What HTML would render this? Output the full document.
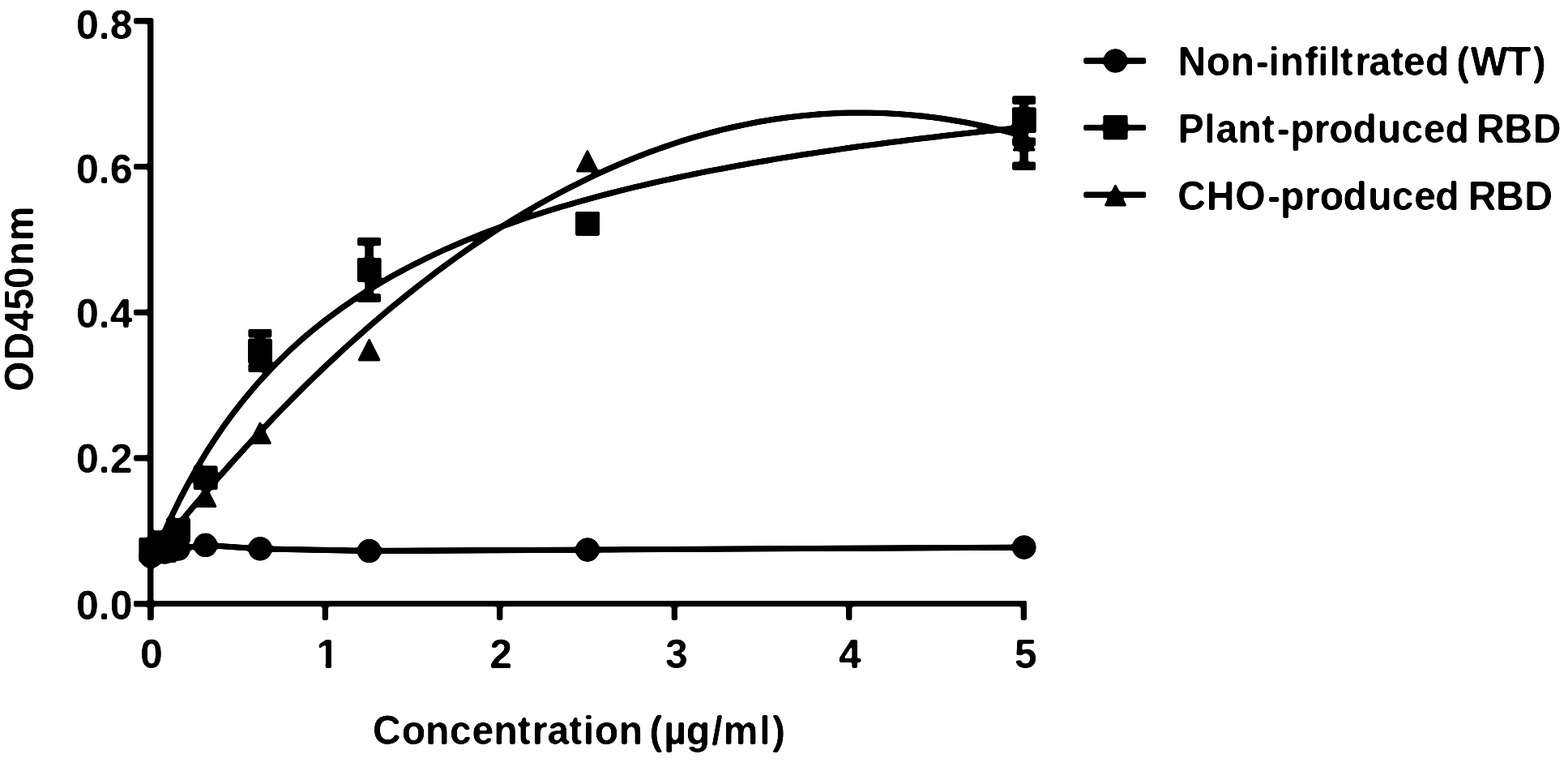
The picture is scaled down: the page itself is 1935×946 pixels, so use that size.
<!DOCTYPE html>
<html lang="en"><head><meta charset="utf-8"><title>ELISA binding curve</title>
<style>html,body{margin:0;padding:0;background:#fff;}body{width:1935px;height:946px;overflow:hidden;}svg{display:block;}text{font-family:"Liberation Sans",sans-serif;font-weight:bold;font-size:50px;fill:#000;}</style>
</head><body>
<svg width="1935" height="946" viewBox="0 0 1935 946">
<defs><filter id="soft" filterUnits="userSpaceOnUse" x="-40" y="-40" width="2015" height="1026" color-interpolation-filters="sRGB"><feGaussianBlur stdDeviation="1.15"/><feComponentTransfer><feFuncR type="linear" slope="4.5" intercept="-1.75"/><feFuncG type="linear" slope="4.5" intercept="-1.75"/><feFuncB type="linear" slope="4.5" intercept="-1.75"/></feComponentTransfer></filter></defs>
<g filter="url(#soft)">
<rect x="-40" y="-40" width="2015" height="1026" fill="#fff"/>
<g stroke="#000" stroke-width="7.3" fill="none" stroke-linecap="butt">
<line x1="185.8" y1="22.2" x2="185.8" y2="764.9"/>
<line x1="165.1" y1="744.7" x2="1267.0" y2="744.7"/>
<line x1="165.1" y1="744.7" x2="185.8" y2="744.7"/>
<line x1="165.1" y1="565.0" x2="185.8" y2="565.0"/>
<line x1="165.1" y1="385.3" x2="185.8" y2="385.3"/>
<line x1="165.1" y1="205.6" x2="185.8" y2="205.6"/>
<line x1="165.1" y1="25.9" x2="185.8" y2="25.9"/>
<line x1="185.8" y1="744.7" x2="185.8" y2="764.9"/>
<line x1="401.3" y1="744.7" x2="401.3" y2="764.9"/>
<line x1="616.8" y1="744.7" x2="616.8" y2="764.9"/>
<line x1="832.3" y1="744.7" x2="832.3" y2="764.9"/>
<line x1="1047.8" y1="744.7" x2="1047.8" y2="764.9"/>
<line x1="1263.3" y1="744.7" x2="1263.3" y2="764.9"/>
</g>
<text x="163.5" y="763.7" text-anchor="end">0.0</text>
<text x="163.5" y="583.3" text-anchor="end">0.2</text>
<text x="163.5" y="404.1" text-anchor="end">0.4</text>
<text x="163.5" y="225.5" text-anchor="end">0.6</text>
<text x="163.5" y="47.9" text-anchor="end">0.8</text>
<text x="186.9" y="824.0" text-anchor="middle">0</text>
<clipPath id="one"><rect x="390.25" y="780" width="30" height="38.90"/><rect x="401.55" y="818.80" width="7.6" height="6"/></clipPath>
<text x="390.25" y="824.0" clip-path="url(#one)">1</text>
<text x="618.2" y="824.0" text-anchor="middle">2</text>
<text x="834.9" y="824.0" text-anchor="middle">3</text>
<text x="1049.0" y="824.0" text-anchor="middle">4</text>
<text x="1265.6" y="824.0" text-anchor="middle">5</text>
<text transform="scale(0.965 0.984)" x="476.73 513.64 544.17 575.18 603.59 631.37 661.99 680.45 700.02 727.69 745.93 760.38 791.37 821.91 830.56 848.88 877.50 910.00 924.98 971.21 987.51" y="932.52">Concentration (µg/ml)</text>
<text transform="translate(40.7 0) rotate(-90) scale(0.955 1)" x="-505.44 -465.22 -428.18 -400.42 -372.77 -343.01 -311.02" y="0">OD450nm</text>
<line x1="1337.3" y1="75.0" x2="1414.3" y2="75.0" stroke="#000" stroke-width="7.4"/>
<circle cx="1376.5" cy="75.0" r="14.85"/>
<text transform="scale(0.965 0.984)" x="1506.15 1542.81 1573.54 1605.90 1622.30 1636.96 1668.61 1685.20 1700.02 1713.80 1732.78 1750.44 1778.57 1794.89 1822.76 1853.30 1862.37 1880.45 1927.51 1960.36" y="94.72">Non-infiltrated (WT)</text>
<line x1="1337.3" y1="157.4" x2="1414.3" y2="157.4" stroke="#000" stroke-width="7.4"/>
<rect x="1361.4" y="141.9" width="30.2" height="30.5"/>
<text transform="scale(0.965 0.984)" x="1506.29 1540.13 1554.84 1582.77 1613.38 1632.89 1649.91 1680.45 1699.86 1730.12 1761.46 1792.28 1820.59 1848.15 1878.69 1888.04 1923.53 1960.34" y="179.27">Plant-produced RBD</text>
<line x1="1337.3" y1="240.3" x2="1414.3" y2="240.3" stroke="#000" stroke-width="7.4"/>
<polygon points="1376.5,226.1 1362.1,254.6 1390.9,254.6"/>
<text transform="scale(0.965 0.984)" x="1505.85 1542.84 1579.59 1620.87 1637.27 1668.33 1687.79 1717.58 1749.44 1779.95 1808.46 1835.61 1866.15 1877.37 1912.86 1949.41" y="263.41">CHO-produced RBD</text>
<g stroke="#000" stroke-width="7.3" fill="none" stroke-linejoin="round" stroke-linecap="butt">
<path d="M185.8,696.7 L194.9,674.5 L203.9,653.7 L213.0,634.1 L222.0,615.8 L231.1,598.5 L240.1,582.2 L249.2,566.8 L258.2,552.2 L267.3,538.4 L276.3,525.3 L285.4,512.9 L294.5,501.0 L303.5,489.8 L312.6,479.0 L321.6,468.7 L330.7,458.9 L339.7,449.5 L348.8,440.5 L357.8,431.9 L366.9,423.6 L375.9,415.6 L385.0,408.0 L394.1,400.7 L403.1,393.6 L412.2,386.8 L421.2,380.2 L430.3,373.9 L439.3,367.8 L448.4,361.9 L457.4,356.2 L466.5,350.7 L475.5,345.4 L484.6,340.2 L493.7,335.2 L502.7,330.4 L511.8,325.7 L520.8,321.2 L529.9,316.7 L538.9,312.5 L548.0,308.3 L557.0,304.3 L566.1,300.3 L575.1,296.5 L584.2,292.8 L593.3,289.2 L602.3,285.7 L611.4,282.3 L620.4,278.9 L629.5,275.7 L638.5,272.5 L647.6,269.4 L656.6,266.4 L665.7,263.5 L674.7,260.6 L683.8,257.8 L692.9,255.0 L701.9,252.4 L711.0,249.8 L720.0,247.2 L729.1,244.7 L738.1,242.3 L747.2,239.9 L756.2,237.6 L765.3,235.3 L774.4,233.0 L783.4,230.8 L792.5,228.7 L801.5,226.6 L810.6,224.5 L819.6,222.5 L828.7,220.6 L837.7,218.6 L846.8,216.7 L855.8,214.9 L864.9,213.0 L874.0,211.2 L883.0,209.5 L892.1,207.8 L901.1,206.1 L910.2,204.4 L919.2,202.8 L928.3,201.2 L937.3,199.6 L946.4,198.1 L955.4,196.5 L964.5,195.0 L973.6,193.6 L982.6,192.1 L991.7,190.7 L1000.7,189.3 L1009.8,188.0 L1018.8,186.6 L1027.9,185.3 L1036.9,184.0 L1046.0,182.7 L1055.0,181.4 L1064.1,180.2 L1073.2,179.0 L1082.2,177.8 L1091.3,176.6 L1100.3,175.4 L1109.4,174.3 L1118.4,173.1 L1127.5,172.0 L1136.5,170.9 L1145.6,169.8 L1154.6,168.8 L1163.7,167.7 L1172.8,166.7 L1181.8,165.7 L1190.9,164.7 L1199.9,163.7 L1209.0,162.7 L1218.0,161.7 L1227.1,160.8 L1236.1,159.8 L1245.2,158.9 L1254.2,158.0 L1263.3,157.1"/>
<path d="M185.8,689.3 L194.9,678.0 L203.9,666.8 L213.0,655.7 L222.0,644.7 L231.1,633.9 L240.1,623.2 L249.2,612.6 L258.2,602.1 L267.3,591.7 L276.3,581.5 L285.4,571.3 L294.5,561.3 L303.5,551.4 L312.6,541.6 L321.6,532.0 L330.7,522.4 L339.7,513.0 L348.8,503.7 L357.8,494.5 L366.9,485.4 L375.9,476.4 L385.0,467.6 L394.1,458.9 L403.1,450.2 L412.2,441.8 L421.2,433.4 L430.3,425.1 L439.3,417.0 L448.4,409.0 L457.4,401.1 L466.5,393.3 L475.5,385.6 L484.6,378.0 L493.7,370.6 L502.7,363.3 L511.8,356.1 L520.8,349.0 L529.9,342.1 L538.9,335.2 L548.0,328.5 L557.0,321.9 L566.1,315.4 L575.1,309.0 L584.2,302.7 L593.3,296.6 L602.3,290.6 L611.4,284.7 L620.4,278.9 L629.5,273.2 L638.5,267.6 L647.6,262.2 L656.6,256.9 L665.7,251.7 L674.7,246.6 L683.8,241.6 L692.9,236.8 L701.9,232.0 L711.0,227.4 L720.0,222.9 L729.1,218.5 L738.1,214.3 L747.2,210.1 L756.2,206.1 L765.3,202.2 L774.4,198.4 L783.4,194.7 L792.5,191.2 L801.5,187.7 L810.6,184.4 L819.6,181.2 L828.7,178.1 L837.7,175.1 L846.8,172.3 L855.8,169.6 L864.9,166.9 L874.0,164.4 L883.0,162.1 L892.1,159.8 L901.1,157.6 L910.2,155.6 L919.2,153.7 L928.3,151.9 L937.3,150.2 L946.4,148.7 L955.4,147.2 L964.5,145.9 L973.6,144.7 L982.6,143.6 L991.7,142.6 L1000.7,141.8 L1009.8,141.0 L1018.8,140.4 L1027.9,139.9 L1036.9,139.5 L1046.0,139.2 L1055.0,139.1 L1064.1,139.1 L1073.2,139.1 L1082.2,139.3 L1091.3,139.7 L1100.3,140.1 L1109.4,140.6 L1118.4,141.3 L1127.5,142.1 L1136.5,143.0 L1145.6,144.0 L1154.6,145.2 L1163.7,146.4 L1172.8,147.8 L1181.8,149.3 L1190.9,150.9 L1199.9,152.6 L1209.0,154.5 L1218.0,156.4 L1227.1,158.5 L1236.1,160.7 L1245.2,163.0 L1254.2,165.5 L1263.3,168.0"/>
<path d="M186.3,685.9 L203.1,681.0 L220.0,677.0 L253.6,672.4 L321.0,676.8 L455.7,679.5 L725.0,678.1 L1263.8,675.1"/>
</g>
<g stroke="#000" stroke-width="10.5" fill="none">
<path d="M455.6,298.1 V367.5 M441.1,298.1 H470.1 M441.1,367.5 H470.1"/>
<path d="M1263.7,123.4 V174.7 M1249.2,123.4 H1278.2 M1249.2,174.7 H1278.2"/>
<path d="M1263.7,139.2 V204.8 M1249.2,139.2 H1278.2 M1249.2,204.8 H1278.2"/>
<path d="M320.9,411.1 V454.1 M306.4,411.1 H335.4 M306.4,454.1 H335.4"/>
</g>
<g fill="#000">
<circle cx="186.3" cy="685.9" r="14.85"/>
<circle cx="203.1" cy="681.0" r="14.85"/>
<circle cx="220.0" cy="677.0" r="14.85"/>
<circle cx="253.6" cy="672.4" r="14.85"/>
<circle cx="321.0" cy="676.8" r="14.85"/>
<circle cx="455.7" cy="679.5" r="14.85"/>
<circle cx="725.0" cy="678.1" r="14.85"/>
<circle cx="1263.8" cy="675.1" r="14.85"/>
<rect x="171.4" y="662.9" width="29.9" height="29.9"/>
<rect x="188.2" y="654.3" width="29.9" height="29.9"/>
<rect x="205.0" y="638.8" width="29.9" height="29.9"/>
<rect x="238.7" y="574.4" width="29.9" height="29.9"/>
<rect x="306.0" y="417.9" width="29.9" height="29.9"/>
<rect x="440.7" y="317.9" width="29.9" height="29.9"/>
<rect x="710.1" y="260.9" width="29.9" height="29.9"/>
<rect x="1248.8" y="132.3" width="29.9" height="31.7"/>
<polygon points="186.2,662.9 171.4,692.0 201.0,692.0"/>
<polygon points="203.0,664.8 188.2,693.9 217.8,693.9"/>
<polygon points="219.9,639.2 205.1,668.3 234.7,668.3"/>
<polygon points="253.5,596.9 238.7,626.0 268.3,626.0"/>
<polygon points="320.9,518.9 306.1,548.0 335.7,548.0"/>
<polygon points="455.6,416.3 440.8,445.4 470.4,445.4"/>
<polygon points="724.9,183.5 710.1,212.6 739.7,212.6"/>
<polygon points="1263.7,157.3 1248.9,186.4 1278.5,186.4"/>
</g>
</g>
</svg>
</body></html>
